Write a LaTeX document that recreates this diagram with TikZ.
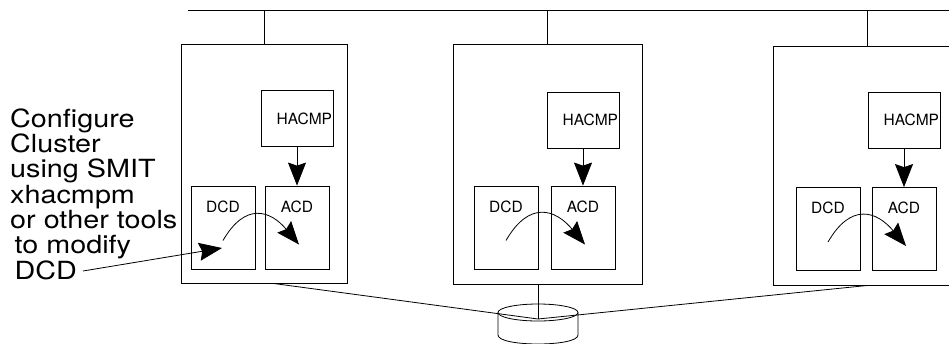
\documentclass[tikz,border=0pt]{standalone}
\usepackage{fontspec}
\setmainfont{TeX Gyre Heros}
\newfontfamily\notefont[FakeStretch=1.15]{TeX Gyre Heros}
\usetikzlibrary{positioning,arrows.meta,fit,calc}
\tikzstyle{host}=[draw=black,rectangle,inner sep=0pt,line width=0.8pt]
\tikzstyle{daemon}=[draw,rectangle,minimum width=72pt,minimum height=56pt,text width=70pt,inner xsep=1pt,align=right,font=\fontsize{15.5}{18}\selectfont,line width=0.8pt]
\tikzstyle{config}=[draw,rectangle,minimum width=64pt,minimum height=83pt,inner sep=0pt,line width=0.8pt]
\tikzstyle{tag}=[anchor=north,inner sep=0pt,yshift=-15pt,font=\fontsize{15.5}{18}\selectfont]
\tikzstyle{edge}=[draw=black,line width=0.8pt]
\tikzset{push/.style={edge,-{Stealth[length=23pt,width=18pt,inset=3pt]}}}
\tikzstyle{note}=[align=left,inner sep=0pt,font=\notefont\fontsize{25}{25.3}\selectfont]

\begin{document}
\begin{tikzpicture}[x=1pt,y=-1pt]
  \useasboundingbox (0,0) rectangle (949,343);

  % network and shared disk
  \coordinate (lan-w) at (188,10);
  \coordinate (lan-e) at (960,10);
  \coordinate (hub) at (538,319);
  \path[edge] (lan-w) -- (lan-e);
  \draw[line width=0.8pt] (538,312.5) ellipse [x radius=40, y radius=8.5];
  \draw[line width=0.8pt] (498,312.5) -- (498,335) .. controls (498,347) and (578,347) .. (578,335) -- (578,312.5);

  % cluster nodes
  \foreach \l/\t/\r/\b/\o/\name in {181/44/347/283/9/n1, 453/44/642/284/-9.5/n2, 773/46/962/285/0.5/n3}{
    \node[host,fit={(\l,\t) (\r,\b)}] (\name) {};
    \path[edge] (\name.north) -- (\name.north |- lan-w);
    \path[edge] ($(\name.south)+(\o,0)$) -- (hub);
  }

  \foreach \pos/\name in {{(297,118.5)/h1}, {(583,120)/h2}, {(904,120)/h3}}
    \node[daemon] (\name) at \pos {HACMP};

  \foreach \pos/\name in {{(223,227.5)/d1}, {(506,227.5)/d2}, {(828,229)/d3}}
    \node[config,label={[tag]north:DCD}] (\name) at \pos {};

  \foreach \pos/\name in {{(297,227.5)/a1}, {(583,227.5)/a2}, {(904,229)/a3}}
    \node[config,label={[tag]north:ACD}] (\name) at \pos {};

  % HACMP updates ACD, DCD copied into ACD
  \foreach \i in {1,2,3}{
    \draw[push] (h\i) -- (a\i);
    \draw[push] ($(d\i.center)+(0,13)$) to[out=60,in=130,looseness=1.5] ($(a\i.center)+(2,17)$);
  }

  % how the DCD gets edited
  \node[note,anchor=base west] (cfg) at (10,279)
    {Configure\\Cluster\\using SMIT\\xhacmpm\\or other tools\\\hspace*{4.5pt}to modify\\\hspace*{4.5pt}DCD};
  \coordinate (cfg-tip) at (83,271);
  \draw[push] (cfg-tip) -- ($(d1.center)+(-1,20.5)$);
\end{tikzpicture}
\end{document}
